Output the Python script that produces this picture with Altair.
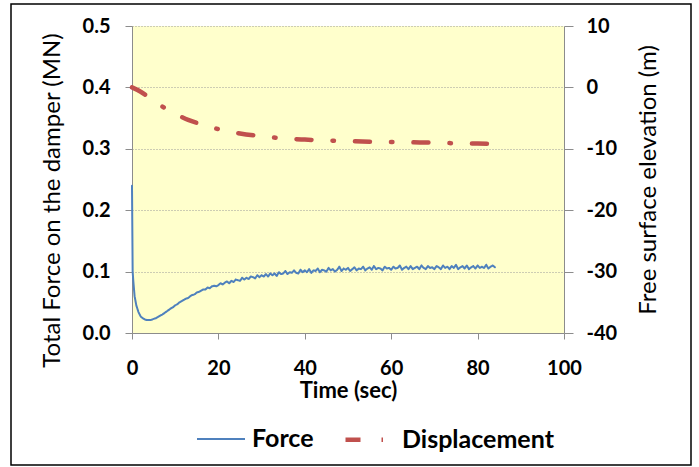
import altair as alt
import pandas as pd

# Force (MN) - early smooth part, irregular time stamps
force_t_early = [0.0, 0.15, 0.3, 0.6, 1.0, 1.5, 2.0, 2.5, 3.0, 3.5, 4.0, 4.5, 5.0, 5.5,
                 6.0, 7.0, 8.0, 9.0, 9.5]
force_v_early = [0.240, 0.100, 0.085, 0.060, 0.045, 0.034, 0.027, 0.024, 0.022, 0.021,
                 0.021, 0.0215, 0.023, 0.024, 0.026, 0.030, 0.035, 0.040, 0.042]

# Force (MN) sampled every 0.5 s from t = 10 s to t = 84 s
force_v_late = [
    0.045, 0.047, 0.050, 0.052, 0.054, 0.056, 0.057, 0.060, 0.062, 0.063,
    0.066, 0.067, 0.069, 0.071, 0.071, 0.074, 0.073, 0.076, 0.077, 0.076,
    0.078, 0.081, 0.079, 0.082, 0.084, 0.081, 0.085, 0.083, 0.087, 0.086,
    0.085, 0.090, 0.087, 0.090, 0.088, 0.092, 0.091, 0.089, 0.094, 0.091,
    0.094, 0.092, 0.096, 0.092, 0.097, 0.094, 0.097, 0.093, 0.099, 0.096,
    0.097, 0.101, 0.096, 0.099, 0.098, 0.102, 0.098, 0.097, 0.103, 0.099,
    0.102, 0.099, 0.104, 0.098, 0.102, 0.101, 0.105, 0.099, 0.103, 0.102,
    0.100, 0.106, 0.102, 0.104, 0.100, 0.103, 0.108, 0.101, 0.105, 0.103,
    0.106, 0.101, 0.104, 0.107, 0.102, 0.105, 0.104, 0.108, 0.102, 0.105,
    0.107, 0.103, 0.109, 0.104, 0.106, 0.105, 0.102, 0.108, 0.105, 0.106,
    0.103, 0.108, 0.105, 0.106, 0.110, 0.103, 0.106, 0.108, 0.104, 0.109,
    0.104, 0.106, 0.108, 0.104, 0.110, 0.106, 0.104, 0.109, 0.106, 0.107,
    0.104, 0.109, 0.107, 0.104, 0.110, 0.106, 0.108, 0.104, 0.109, 0.106,
    0.111, 0.104, 0.107, 0.109, 0.105, 0.110, 0.104, 0.107, 0.109, 0.105,
    0.110, 0.106, 0.108, 0.106, 0.111, 0.105, 0.108, 0.110, 0.107,
]
force_t_late = [10.0 + 0.5 * i for i in range(len(force_v_late))]

# Displacement (m)
disp_t = [0, 2, 4, 6, 8, 10, 13, 16, 20, 25, 30, 35, 40, 45, 50, 55, 60, 65, 70, 75, 80, 84]
disp_v = [0, -0.7, -1.65, -2.6, -3.55, -4.3, -5.3, -6.0, -6.8, -7.5, -7.95, -8.3, -8.5,
          -8.65, -8.75, -8.85, -8.9, -8.95, -9.0, -9.1, -9.15, -9.2]

x_ticks = [0, 20, 40, 60, 80, 100]
left_ticks = [0.0, 0.1, 0.2, 0.3, 0.4, 0.5]
right_ticks = [-40, -30, -20, -10, 0, 10]
series_names = ["Force", "Displacement"]

force_df = pd.DataFrame({
    "t": force_t_early + force_t_late,
    "force": force_v_early + force_v_late,
    "series": "Force",
})
disp_df = pd.DataFrame({"t": disp_t, "disp": disp_v, "series": "Displacement"})

FONT = "Lato"
W, H = 432, 307
PL, PT = 132, 26

color_scale = alt.Scale(domain=series_names, range=["#4F81BD", "#C0504D"])
dash_scale = alt.Scale(domain=series_names, range=[[1, 0], [15, 21, 1.5, 21]])
width_scale = alt.Scale(domain=series_names, range=[2, 4.5])

legend = alt.Legend(
    title=None, orient="none", direction="horizontal",
    legendX=64, legendY=387,
    symbolType="stroke", symbolSize=2304,
    labelFont=FONT, labelFontSize=25, labelFontWeight="bold", labelColor="black",
    labelOffset=6, columnPadding=22,
)

x_enc = alt.X("t:Q", scale=alt.Scale(domain=[0, 100], nice=False),
              axis=alt.Axis(values=x_ticks, title="Time (sec)", grid=False,
                            labelFlush=False, titleFontSize=22,
                            labelPadding=19, titlePadding=2, tickSize=6))

force_line = alt.Chart(force_df).mark_line(strokeCap="round", strokeJoin="round").encode(
    x=x_enc,
    y=alt.Y("force:Q", scale=alt.Scale(domain=[0, 0.5], nice=False),
            axis=alt.Axis(values=left_ticks, format=".1f",
                          title="Total Force on the damper (MN)",
                          grid=True, gridDash=[1, 2], gridColor="#9a9a9a",
                          labelPadding=15, tickSize=7, titlePadding=18,
                          titleY=174, titleFontWeight="normal", titleFontSize=24)),
    color=alt.Color("series:N", scale=color_scale, legend=legend),
    strokeDash=alt.StrokeDash("series:N", scale=dash_scale, legend=legend),
    strokeWidth=alt.StrokeWidth("series:N", scale=width_scale, legend=legend),
    order="t:Q",
)

disp_line = alt.Chart(disp_df).mark_line(strokeCap="round", interpolate="monotone").encode(
    x=x_enc,
    y=alt.Y("disp:Q", scale=alt.Scale(domain=[-40, 10], nice=False),
            axis=alt.Axis(values=right_ticks, labelExpr="'' + datum.value", orient="right",
                          title="Free surface elevation (m)", grid=False,
                          labelPadding=13, tickSize=9, titlePadding=20,
                          titleAngle=270, titleBaseline="top",
                          titleFontWeight="normal", titleFontSize=24)),
    color=alt.Color("series:N", scale=color_scale, legend=legend),
    strokeDash=alt.StrokeDash("series:N", scale=dash_scale, legend=legend),
    strokeWidth=alt.StrokeWidth("series:N", scale=width_scale, legend=legend),
)

frame_df = pd.DataFrame({"k": [0]})
frame = alt.Chart(frame_df).mark_rect(fillOpacity=0, stroke="black", strokeWidth=1.5).encode(
    x=alt.value(11 - PL), x2=alt.value(691 - PL),
    y=alt.value(4 - PT), y2=alt.value(465 - PT),
)

chart = alt.layer(force_line, disp_line, frame).resolve_scale(
    y="independent"
).properties(
    width=W, height=H,
    autosize=alt.AutoSizeParams(type="none"),
    padding={"left": PL, "top": PT, "right": 699 - PL - W, "bottom": 467 - PT - H},
    background="white",
).configure_view(
    fill="#FFFFCC", stroke=None,
).configure_axis(
    labelFont=FONT, labelFontSize=20, labelFontWeight="bold", labelColor="black",
    titleFont=FONT, titleFontSize=24, titleFontWeight="bold", titleColor="black",
    domainColor="#8c8c8c", tickColor="#8c8c8c", domainWidth=1, tickWidth=1,
)

chart.save("out.html", embed_options={"renderer": "svg", "actions": False})
